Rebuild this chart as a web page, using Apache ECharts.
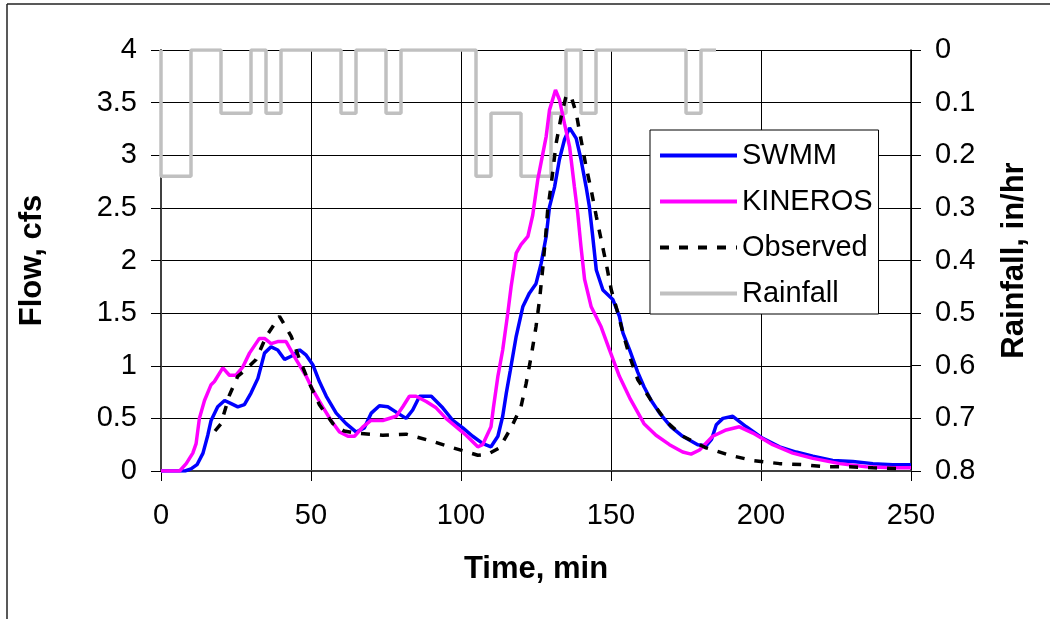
<!DOCTYPE html>
<html>
<head>
<meta charset="utf-8">
<script src="https://cdn.jsdelivr.net/npm/echarts@6/dist/echarts.min.js"></script>
<style>
html,body{margin:0;padding:0;background:#fff;}
#chart{width:1050px;height:619px;}
</style>
</head>
<body>
<div id="chart"></div>
<script>
// Time (min), Flow (cfs)
var swmm = [[0,0],[8,0],[10,0.02],[12,0.06],[14,0.17],[15.6,0.34],[16.7,0.48],[18.9,0.61],[21.2,0.67],[23.4,0.64],[25.6,0.61],[27.8,0.63],[30,0.74],[32.3,0.88],[34.5,1.12],[36.7,1.18],[38.9,1.15],[41.2,1.06],[43.4,1.09],[46.2,1.15],[48.4,1.1],[50.6,1.01],[52.8,0.85],[55.1,0.71],[58.4,0.55],[61.7,0.45],[65.1,0.37],[67.8,0.41],[70.1,0.55],[72.8,0.62],[75.6,0.61],[78.9,0.55],[81.7,0.5],[83.9,0.58],[86.2,0.71],[90.1,0.71],[93.9,0.6],[97.3,0.48],[100.6,0.41],[103.9,0.33],[107.3,0.26],[110,0.23],[112.3,0.33],[113.9,0.52],[115.1,0.74],[116.4,0.95],[118.4,1.28],[120.6,1.56],[122.8,1.69],[125,1.78],[126.7,1.97],[128.4,2.23],[129.5,2.51],[131.2,2.7],[132.8,2.96],[134.5,3.15],[136.2,3.26],[138.4,3.16],[140,2.96],[141.7,2.7],[142.8,2.51],[143.9,2.23],[145.1,1.91],[147.3,1.72],[150.6,1.63],[152.8,1.47],[154,1.31],[156.2,1.15],[158.9,0.94],[161,0.8],[163.4,0.67],[166.2,0.55],[170,0.42],[173.9,0.33],[178.9,0.25],[181.7,0.24],[183.5,0.3],[185.1,0.44],[187.3,0.5],[190.6,0.52],[195.1,0.42],[200.6,0.31],[206.2,0.23],[211.7,0.18],[217.3,0.14],[223.9,0.1],[230.6,0.09],[237.3,0.07],[243.9,0.06],[250,0.06]];
var kineros = [[0,0],[6.2,0],[8.4,0.07],[10.6,0.17],[11.7,0.26],[12.8,0.5],[14.5,0.67],[16.7,0.82],[17.8,0.85],[20.6,0.98],[22.8,0.91],[25,0.91],[27.3,0.99],[29.5,1.12],[32.8,1.26],[34.5,1.26],[36.7,1.21],[38.9,1.23],[41.7,1.23],[45,1.06],[48.4,0.9],[50.6,0.77],[53.9,0.61],[56.7,0.48],[59.5,0.37],[62.3,0.33],[64.5,0.33],[67.3,0.42],[70,0.48],[73.9,0.48],[78.4,0.52],[80.6,0.61],[82.8,0.71],[85,0.71],[88.4,0.66],[91.7,0.6],[95,0.5],[98.4,0.42],[101.7,0.34],[105.6,0.23],[107.2,0.25],[110,0.42],[110.8,0.6],[112.3,0.9],[113.9,1.15],[115.6,1.5],[116.7,1.75],[118.4,2.07],[120,2.15],[122.3,2.23],[123.9,2.43],[125.6,2.77],[128.4,3.18],[129.5,3.43],[131.5,3.62],[132.8,3.53],[134.5,3.3],[136.2,3.08],[137.8,2.7],[138.9,2.45],[140,2.13],[141.2,1.82],[143.4,1.56],[146.7,1.37],[149.5,1.15],[152.8,0.9],[156.5,0.68],[161,0.45],[165,0.34],[169.5,0.25],[173.9,0.18],[176.7,0.16],[179.5,0.2],[183.9,0.33],[188.4,0.39],[192.8,0.42],[197.3,0.36],[203.9,0.25],[210.6,0.17],[217.3,0.12],[226.2,0.07],[235,0.04],[243.9,0.03],[250,0.03]];
var observed = [[18,0.38],[20,0.45],[22.8,0.72],[25.6,0.9],[28.5,0.97],[31.7,1.06],[35.1,1.28],[39.5,1.47],[43.4,1.28],[46.2,1.06],[49.5,0.83],[52.8,0.63],[57.3,0.45],[61,0.38],[65.1,0.36],[73.9,0.34],[81.7,0.35],[89.5,0.29],[97.3,0.22],[105.6,0.15],[109,0.16],[112.8,0.22],[116.7,0.41],[120,0.61],[121.7,0.83],[123.4,1.09],[125,1.37],[126.2,1.63],[127.3,1.94],[128.2,2.23],[128.9,2.48],[130.1,2.73],[131.7,3.11],[133.4,3.37],[135.1,3.57],[136.7,3.56],[138.4,3.4],[140,3.15],[141.7,2.89],[143.4,2.67],[145.1,2.42],[146.7,2.2],[148.4,1.97],[150.1,1.72],[152.3,1.5],[154,1.31],[156.2,1.09],[158.9,0.87],[163.4,0.67],[168.4,0.47],[173.9,0.33],[181.7,0.22],[189.5,0.15],[197.3,0.1],[206.2,0.07],[213.9,0.06],[221.7,0.04],[229.5,0.04],[237.3,0.03],[248,0.02]];
// Rainfall (in/hr): interval start time, intensity (held until next point)
var rainfall = [[0,0],[0,0.24],[10,0],[20,0.12],[30,0],[35,0.12],[40,0],[60,0.12],[65,0],[75,0.12],[80,0],[105,0.24],[110,0.12],[120,0.24],[130,0.12],[135,0],[140,0.12],[145,0],[175,0.12],[180,0],[185,0]];

var FONT = 'Liberation Sans, Arial, sans-serif';
var chart = echarts.init(document.getElementById('chart'), null, {renderer:'canvas'});
chart.setOption({
  animation: false,
  backgroundColor: '#fff',
  textStyle: {fontFamily: FONT, color: '#000'},
  grid: {left: 161, right: 139, top: 50, bottom: 148, containLabel: false},
  legend: {
    orient: 'vertical', left: 650, top: 130,
    itemWidth: 77, itemHeight: 14, itemGap: 13,
    padding: [9, 6, 4, 8],
    borderColor: '#000', borderWidth: 1, backgroundColor: '#fff',
    itemStyle: {opacity: 0, borderWidth: 0},
    lineStyle: {width: 4},
    textStyle: {fontSize: 29, lineHeight: 33, fontFamily: FONT, color: '#000'},
    data: ['SWMM', 'KINEROS', 'Observed', 'Rainfall']
  },
  xAxis: {
    type: 'value', min: 0, max: 250, interval: 50,
    name: 'Time, min', nameLocation: 'middle', nameGap: 83,
    nameTextStyle: {fontSize: 31, fontWeight: 'bold', fontFamily: FONT, color: '#000'},
    axisLine: {show: true, lineStyle: {color: '#404040', width: 2}},
    axisTick: {show: true, length: 10, lineStyle: {color: '#000', width: 1}},
    axisLabel: {fontSize: 29, margin: 30, color: '#000', fontFamily: FONT},
    splitLine: {show: true, lineStyle: {color: '#000', width: 1}}
  },
  yAxis: [{
    type: 'value', position: 'left', min: 0, max: 4, interval: 0.5,
    name: 'Flow, cfs', nameLocation: 'middle', nameGap: 113, nameRotate: 90,
    nameTextStyle: {fontSize: 31, fontWeight: 'bold', fontFamily: FONT, color: '#000'},
    axisLine: {show: true, lineStyle: {color: '#404040', width: 2}},
    axisTick: {show: true, length: 10, lineStyle: {color: '#000', width: 1}},
    axisLabel: {fontSize: 29, margin: 24, color: '#000', fontFamily: FONT},
    splitLine: {show: true, lineStyle: {color: '#000', width: 1}}
  }, {
    type: 'value', position: 'right', min: 0, max: 0.8, interval: 0.1, inverse: true,
    name: 'Rainfall, in/hr', nameLocation: 'middle', nameGap: 88, nameRotate: 90,
    nameTextStyle: {fontSize: 31, fontWeight: 'bold', fontFamily: FONT, color: '#000'},
    axisLine: {show: true, lineStyle: {color: '#000', width: 1.5}},
    axisTick: {show: true, length: 10, lineStyle: {color: '#000', width: 1}},
    axisLabel: {fontSize: 29, margin: 24, color: '#000', fontFamily: FONT},
    splitLine: {show: false}
  }],
  series: [{
    name: 'Rainfall', type: 'line', yAxisIndex: 1, data: rainfall, step: 'end',
    symbol: 'none', z: 1,
    lineStyle: {color: '#c0c0c0', width: 3.5}, itemStyle: {color: '#c0c0c0'}
  }, {
    name: 'SWMM', type: 'line', yAxisIndex: 0, data: swmm, symbol: 'none', z: 2,
    lineStyle: {color: '#0000ff', width: 3.5}, itemStyle: {color: '#0000ff'}
  }, {
    name: 'KINEROS', type: 'line', yAxisIndex: 0, data: kineros, symbol: 'none', z: 2,
    lineStyle: {color: '#ff00ff', width: 3.5}, itemStyle: {color: '#ff00ff'}
  }, {
    name: 'Observed', type: 'line', yAxisIndex: 0, data: observed, symbol: 'none', z: 2,
    lineStyle: {color: '#000', width: 3.5, type: [9, 10]}, itemStyle: {color: '#000'}
  }],
  graphic: [
    {type: 'line', shape: {x1: 7, y1: 4, x2: 1050, y2: 4}, style: {stroke: '#222', lineWidth: 1.5}},
    {type: 'line', shape: {x1: 7, y1: 4, x2: 7, y2: 619}, style: {stroke: '#222', lineWidth: 1.5}}
  ]
});
</script>
</body>
</html>
